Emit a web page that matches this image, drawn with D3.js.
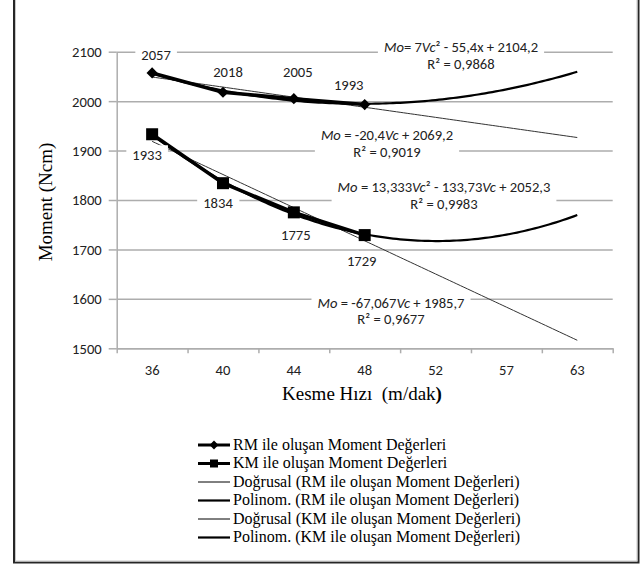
<!DOCTYPE html>
<html>
<head>
<meta charset="utf-8">
<script src="https://cdn.jsdelivr.net/npm/d3@7"></script>
<style>
body { margin: 0; background: #fff; }
text { white-space: pre; }
</style>
</head>
<body>
<script>
// chart values
var categories = ['36', '40', '44', '48', '52', '57', '63'];
var rmValues = [2057, 2018, 2005, 1993];
var kmValues = [1933, 1834, 1775, 1729];
var yTicks = [1500, 1600, 1700, 1800, 1900, 2000, 2100];

// trendline coefficients (c0 + c1*x + c2*x^2), x = category index starting at 1
var rmLinCoef = [2069.2, -20.4];
var rmPolyCoef = [2104.2, -55.4, 7];
var kmLinCoef = [1985.7, -67.067];
var kmPolyCoef = [2052.3, -133.73, 13.333];

var rmPolyText = ['Mo= 7Vc² - 55,4x + 2104,2', 'R² = 0,9868'];
var rmLinText = ['Mo = -20,4Vc + 2069,2', 'R² = 0,9019'];
var kmPolyText = ['Mo = 13,333Vc² - 133,73Vc + 2052,3', 'R² = 0,9983'];
var kmLinText = ['Mo = -67,067Vc + 1985,7', 'R² = 0,9677'];

var legendNames = [
	'RM ile oluşan Moment Değerleri',
	'KM ile oluşan Moment Değerleri',
	'Doğrusal (RM ile oluşan Moment Değerleri)',
	'Polinom. (RM ile oluşan Moment Değerleri)',
	'Doğrusal (KM ile oluşan Moment Değerleri)',
	'Polinom. (KM ile oluşan Moment Değerleri)'
];

// layout
var W = 641, H = 565;
var L = 116.7, R = 612.7, T = 51.7, B = 348.3;
var sansFont = "Calibri, Carlito, 'Liberation Sans', Arial, sans-serif";
var serifFont = "'Liberation Serif', 'Times New Roman', serif";
var labelSize = 14.6;
var gridColor = '#adadad';

// pixel offsets of the data labels from their points
var rmLabelOff = [[4, -13], [5, -15.5], [4, -21.7], [-16, -14.6]];
var kmLabelOff = [[-5, 26], [-5, 25], [2, 27.6], [-3, 31]];

var svg = d3.select('body').append('svg')
	.attr('width', W)
	.attr('height', H);

// chart area border
svg.append('rect').attr('x', 14).attr('y', -10).attr('width', 624.5).attr('height', 572.5)
	.attr('fill', '#fff').attr('stroke', '#262626').attr('stroke-width', 2);
svg.append('rect').attr('x', 15.5).attr('y', -10).attr('width', 621.5).attr('height', 571)
	.attr('fill', 'none').attr('stroke', '#c8c8c8').attr('stroke-width', 1);

var x = d3.scaleBand().domain(categories).range([L, R]);
var xi = d3.scaleLinear().domain([0.5, categories.length + 0.5]).range([L, R]);
var y = d3.scaleLinear().domain([1500, 2100]).range([B, T]);

function px(i) { return x(categories[i]) + x.bandwidth() / 2; }

// grid
svg.append('g')
	.attr('transform', 'translate(' + L + ',0)')
	.call(d3.axisLeft(y).tickValues(yTicks).tickSize(-(R - L)).tickFormat(''))
	.call(function(g){
		g.select('.domain').remove();
		g.selectAll('line').attr('stroke', gridColor).attr('stroke-width', 1.5);
	});

// y axis
svg.append('g')
	.attr('transform', 'translate(' + L + ',0)')
	.call(d3.axisLeft(y).tickValues(yTicks).tickFormat(d3.format('d'))
		.tickSizeInner(8).tickSizeOuter(0).tickPadding(7))
	.call(function(g){
		g.select('.domain').attr('stroke', gridColor).attr('stroke-width', 1.5);
		g.selectAll('line').attr('stroke', gridColor).attr('stroke-width', 1.5);
		g.selectAll('text').attr('font-family', sansFont).attr('font-size', labelSize).attr('fill', '#222')
			.attr('dy', '0.34em');
	});

// x axis: ticks between categories
var boundaries = d3.range(categories.length + 1).map(function(d){ return d + 0.5; });
svg.append('g')
	.attr('transform', 'translate(0,' + B + ')')
	.call(d3.axisBottom(xi).tickValues(boundaries).tickSizeInner(5).tickSizeOuter(0).tickFormat(''))
	.call(function(g){
		g.select('.domain').attr('stroke', gridColor).attr('stroke-width', 1.5);
		g.selectAll('line').attr('stroke', gridColor).attr('stroke-width', 1.5);
	});
svg.append('g')
	.attr('transform', 'translate(0,' + B + ')')
	.call(d3.axisBottom(x).tickSize(0).tickPadding(16.5))
	.call(function(g){
		g.select('.domain').remove();
		g.selectAll('text').attr('font-family', sansFont).attr('font-size', labelSize).attr('fill', '#222');
	});

// axis titles
svg.append('text')
	.attr('transform', 'translate(52,202) rotate(-90)')
	.attr('text-anchor', 'middle')
	.attr('font-family', serifFont).attr('font-size', 19).attr('fill', '#000')
	.text('Moment (Ncm)');
var xt = svg.append('text')
	.attr('x', 362).attr('y', 400)
	.attr('text-anchor', 'middle')
	.attr('font-family', serifFont).attr('font-size', 19).attr('fill', '#000');
xt.append('tspan').text('Kesme Hızı  (m/dak');
xt.append('tspan').attr('font-weight', 'bold').text(')');

// trendlines
function evalCoef(c, t){
	var v = 0;
	for(var k = 0; k < c.length; k++){ v += c[k] * Math.pow(t, k); }
	return v;
}
var tSteps = d3.range(1, categories.length + 0.001, 0.05);
var trendLine = d3.line()
	.x(function(d){ return xi(d[0]); })
	.y(function(d){ return y(d[1]); });

function drawTrend(coef, width, color){
	var pts = tSteps.map(function(t){ return [t, evalCoef(coef, t)]; });
	svg.append('path')
		.attr('d', trendLine(pts))
		.attr('fill', 'none')
		.attr('stroke', color)
		.attr('stroke-width', width);
}
drawTrend(rmLinCoef, 1, '#333');
drawTrend(kmLinCoef, 1, '#333');
drawTrend(rmPolyCoef, 2.2, '#000');
drawTrend(kmPolyCoef, 2.2, '#000');

// series
var seriesLine = d3.line()
	.x(function(d, i){ return px(i); })
	.y(function(d){ return y(d); });

svg.append('path').attr('d', seriesLine(rmValues))
	.attr('fill', 'none').attr('stroke', '#000').attr('stroke-width', 3.5);
svg.append('path').attr('d', seriesLine(kmValues))
	.attr('fill', 'none').attr('stroke', '#000').attr('stroke-width', 3.5);

svg.selectAll('.rm_marker')
	.data(rmValues)
	.enter()
	.append('path')
	.attr('class', 'rm_marker')
	.attr('d', d3.symbol().type(d3.symbolDiamond2).size(80))
	.attr('transform', function(d, i){ return 'translate(' + px(i) + ',' + y(d) + ')'; })
	.attr('fill', '#000');

svg.selectAll('.km_marker')
	.data(kmValues)
	.enter()
	.append('rect')
	.attr('class', 'km_marker')
	.attr('x', function(d, i){ return px(i) - 6; })
	.attr('y', function(d){ return y(d) - 6; })
	.attr('width', 12).attr('height', 12)
	.attr('fill', '#000');

// labels with white boxes
function boxed(g, padX, padY){
	var bb = g.node().getBBox();
	g.insert('rect', ':first-child')
		.attr('x', bb.x - padX).attr('y', bb.y - padY)
		.attr('width', bb.width + 2 * padX).attr('height', bb.height + 2 * padY)
		.attr('fill', '#fff');
}

function dataLabels(values, offs){
	values.forEach(function(v, i){
		var g = svg.append('g');
		g.append('text')
			.attr('x', px(i) + offs[i][0])
			.attr('y', y(v) + offs[i][1])
			.attr('text-anchor', 'middle')
			.attr('font-family', sansFont).attr('font-size', labelSize).attr('fill', '#222')
			.text(v);
		boxed(g, 6, 1);
	});
}
dataLabels(rmValues, rmLabelOff);
dataLabels(kmValues, kmLabelOff);

function eqLabel(lines, cx, baseline){
	var g = svg.append('g');
	lines.forEach(function(line, li){
		var t = g.append('text')
			.attr('x', cx).attr('y', baseline + li * 16.8)
			.attr('text-anchor', 'middle')
			.attr('font-family', sansFont).attr('font-size', labelSize).attr('fill', '#222');
		line.split(/(Mo|Vc)/).forEach(function(part){
			if(part === '') return;
			t.append('tspan')
				.attr('font-style', (part == 'Mo' || part == 'Vc') ? 'italic' : 'normal')
				.text(part);
		});
	});
	boxed(g, 6, 1);
}
eqLabel(rmPolyText, 461, 52);
eqLabel(rmLinText, 387, 140);
eqLabel(kmPolyText, 444, 192);
eqLabel(kmLinText, 391, 307.5);

// legend
var legendStyles = [
	{w: 3, marker: 'diamond'},
	{w: 3, marker: 'square'},
	{w: 1, marker: null},
	{w: 2.2, marker: null},
	{w: 1, marker: null},
	{w: 2.2, marker: null}
];
var legend = svg.append('g').attr('id', 'legend');
var rowY = d3.scaleLinear().domain([0, legendNames.length - 1]).range([445, 537.5]);

var rows = legend.selectAll('.row')
	.data(legendNames)
	.enter()
	.append('g')
	.attr('class', 'row')
	.attr('transform', function(d, i){ return 'translate(0,' + rowY(i) + ')'; });

rows.append('line')
	.attr('x1', 198).attr('x2', 230)
	.attr('stroke', '#000')
	.attr('stroke-width', function(d, i){ return legendStyles[i].w; });

rows.filter(function(d, i){ return legendStyles[i].marker == 'diamond'; })
	.append('path')
	.attr('d', d3.symbol().type(d3.symbolDiamond2).size(50))
	.attr('transform', 'translate(214,0)')
	.attr('fill', '#000');

rows.filter(function(d, i){ return legendStyles[i].marker == 'square'; })
	.append('rect')
	.attr('x', 210).attr('y', -4).attr('width', 8).attr('height', 8)
	.attr('fill', '#000');

rows.append('text')
	.attr('x', 233).attr('y', 4.8)
	.attr('font-family', serifFont).attr('font-size', 16).attr('fill', '#000')
	.text(function(d){ return d; });
</script>
</body>
</html>
